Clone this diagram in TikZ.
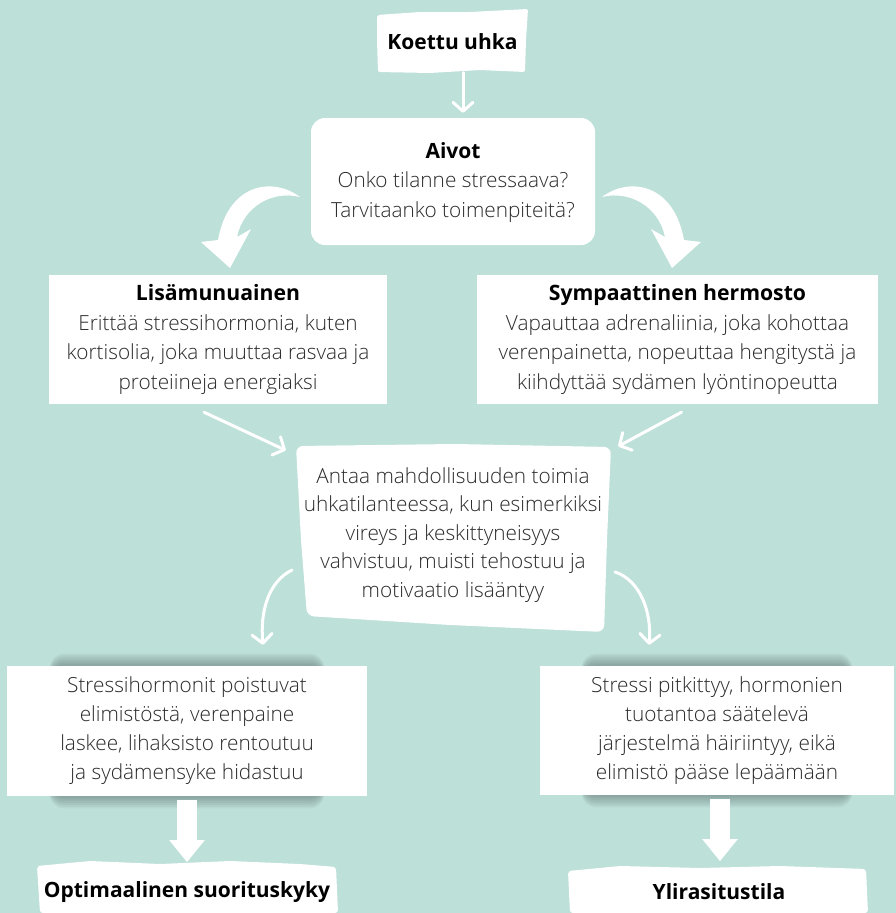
\documentclass[tikz,border=0pt]{standalone}
\usepackage{fontspec}
\setmainfont{Open Sans}
\newfontfamily\lightfont{Open Sans Light}
\usetikzlibrary{arrows.meta,calc}
\definecolor{bg}{HTML}{BDE0D9}
\definecolor{txt}{HTML}{2A2A2A}
\begin{document}
\begin{tikzpicture}[x=1pt,y=-1pt,
  body/.style={align=center,font=\lightfont\fontsize{20.8}{29.5}\selectfont,text=txt,inner sep=0pt},
  box/.style={fill=white,inner sep=0pt},
  thinarrow/.style={white,line width=3pt,line cap=round,-{Straight Barb[length=9pt,width=20pt,round]}},
  blockarrow/.style={white,line width=20pt,-{Triangle[length=22pt,width=34pt]}},
  brush/.style={fill=white},
  shade/.style={black,opacity=0.04,rounded corners=14pt}
]
\fill[bg] (0,0) rectangle (896,913);
\useasboundingbox (0,0) rectangle (896,913);

% ---- top box (hand drawn)
\fill[white,rounded corners=2pt] (377,15) -- (420,12) -- (470,12) -- (528,9) -- (526,40) -- (525,72) -- (480,70) -- (430,73) -- (378,72) -- (377,40) -- cycle;
\node[body,minimum width=150pt,minimum height=62pt] (koettu) at (452.5,41.5) {\textcolor{black}{\normalfont\fontsize{21}{24}\selectfont\bfseries Koettu uhka}};

% ---- Aivot
\node[box,rounded corners=14pt,minimum width=284pt,minimum height=127pt] (aivot) at (453,181.5) {};
\node[body] at ([yshift=-1pt]aivot.center) {\textcolor{black}{\normalfont\fontsize{21}{29.5}\selectfont\bfseries Aivot}\\Onko tilanne stressaava?\\Tarvitaanko toimenpiteitä?};

% ---- second row
\node[box,minimum width=338pt,minimum height=129pt] (lisa) at (218,339.5) {};
\node[body] at (lisa.center) {\textcolor{black}{\normalfont\fontsize{21.2}{29.5}\selectfont\bfseries Lisämunuainen}\\Erittää stressihormonia, kuten\\kortisolia, joka muuttaa rasvaa ja\\proteiineja energiaksi};
\node[box,minimum width=401pt,minimum height=129pt] (symp) at (677.5,339.5) {};
\node[body] at (symp.center) {\textcolor{black}{\normalfont\fontsize{21.2}{29.5}\selectfont\bfseries Sympaattinen hermosto}\\Vapauttaa adrenaliinia, joka kohottaa\\verenpainetta, nopeuttaa hengitystä ja\\kiihdyttää sydämen lyöntinopeutta};

% ---- middle box (hand drawn)
\fill[white,rounded corners=7pt] (296,446) -- (455,444) -- (611,447) -- (607,540) -- (604,632) -- (450,625) -- (307,616) -- (301,540) -- cycle;
\node[body,font=\lightfont\fontsize{20.8}{28.5}\selectfont,minimum width=314pt,minimum height=185pt] (mid) at (453,535) {Antaa mahdollisuuden toimia\\uhkatilanteessa, kun esimerkiksi\\vireys ja keskittyneisyys\\vahvistuu, muisti tehostuu ja\\motivaatio lisääntyy};

% ---- lower row with soft shadows
\foreach \i in {1,...,8}{
  \fill[shade] (50,668-1.8*\i) rectangle (324,794+1.8*\i);
  \fill[shade] (582,668-1.8*\i) rectangle (852,793+1.8*\i);
}
\node[box,minimum width=360pt,minimum height=130pt] (bl) at (187,731) {};
\node[body,font=\lightfont\fontsize{20.8}{29}\selectfont] at (bl.center) {Stressihormonit poistuvat\\elimistöstä, verenpaine\\laskee, lihaksisto rentoutuu\\ja sydämensyke hidastuu};
\node[box,minimum width=354pt,minimum height=129pt] (br) at (717,730.5) {};
\node[body,font=\lightfont\fontsize{20.8}{29}\selectfont] at (br.center) {Stressi pitkittyy, hormonien\\tuotantoa säätelevä\\järjestelmä häiriintyy, eikä\\elimistö pääse lepäämään};

% ---- bottom boxes (hand drawn)
\fill[white,rounded corners=3pt] (37,866) -- (90,861) -- (160,864) -- (230,861) -- (300,864) -- (336,867) -- (338,913) -- (40,913) -- cycle;
\node[body,minimum width=300pt,minimum height=40pt] (opt) at (187,892) {\textcolor{black}{\normalfont\fontsize{21}{24}\selectfont\bfseries Optimaalinen suorituskyky}};
\fill[white,rounded corners=3pt] (568,871) -- (620,866) -- (700,868) -- (780,866) -- (866,869) -- (868,913) -- (570,913) -- cycle;
\node[body,minimum width=300pt,minimum height=40pt] (yli) at (719,892) {\textcolor{black}{\normalfont\fontsize{21}{24}\selectfont\bfseries Ylirasitustila}};

% ---- connectors
\draw[thinarrow] ($(koettu.south)+(10.5,0)$) -- ($(aivot.north)+(10,-5)$);

% brush arrows from Aivot
\fill[brush] (300,197) .. controls (272,176) and (228,184) .. (218,240) -- (201,242) -- (230,268) -- (251,229) -- (237,237) .. controls (243,207) and (272,190) .. (300,197) -- cycle;
\fill[brush] (602,197) .. controls (630,176) and (674,184) .. (684,240) -- (701,242) -- (672,268) -- (651,229) -- (665,237) .. controls (659,207) and (630,190) .. (602,197) -- cycle;

\coordinate (l1) at ($(lisa.south)+(-14,8)$);
\coordinate (r1) at ($(symp.south)+(4,8)$);
\draw[thinarrow] (l1) -- ($(mid.north west)+(-10,8)$);
\draw[thinarrow] (r1) -- ($(mid.north east)+(8,4)$);

\coordinate (ml) at (292,570);
\coordinate (mr) at (615,572);
\draw[thinarrow] (ml) .. controls (268,582) and (260,612) .. ($(bl.north)+(76,-21)$);
\draw[thinarrow] (mr) .. controls (640,580) and (652,612) .. ($(br.north)+(-68,-21)$);

\draw[blockarrow,shorten <=4pt] (bl.south) -- ([yshift=-66pt]bl.south);
\draw[blockarrow,shorten <=4pt] ([xshift=3pt]br.south) -- ([xshift=3pt,yshift=-66pt]br.south);
\end{tikzpicture}
\end{document}
